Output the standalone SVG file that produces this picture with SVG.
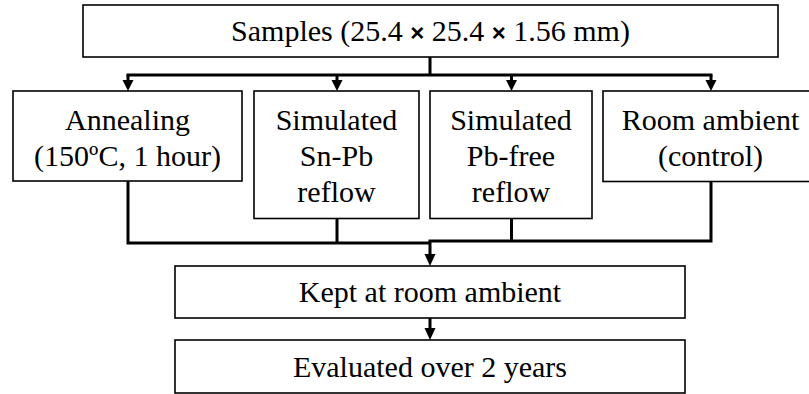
<svg xmlns="http://www.w3.org/2000/svg" width="809" height="394" viewBox="0 0 809 394">
<style>
.box{fill:#fff;stroke:#000;stroke-width:1.6}
text{font-family:'Liberation Serif','Times New Roman',Times,serif;font-size:30px;fill:#000;text-anchor:middle}
.x{font-family:'Liberation Sans',Arial,sans-serif;font-weight:bold;font-size:24px}
.c{fill:none;stroke:#000;stroke-width:3}
.ah{fill:#000}
</style>
<rect width="809" height="394" fill="#fff"/>
<g id="connectors">
<path class="c" d="M430,57 V75 M126.5,75 H712.5"/>
<path class="c" d="M128,75 V82 M337,75 V82 M511.5,75 V82 M711,75 V82"/>
<polygon class="ah" points="122.5,80 133.5,80 128,91"/>
<polygon class="ah" points="331.5,80 342.5,80 337,91"/>
<polygon class="ah" points="506,80 517,80 511.5,91"/>
<polygon class="ah" points="705.5,80 716.5,80 711,91"/>
<path class="c" d="M128,181 V243 H430 M337,218.5 V243 M711,181.5 V241 H428.5 M511.5,218.5 V241"/>
<path class="c" d="M430,241 V256 M430,318 V330"/>
<polygon class="ah" points="424.5,254 435.5,254 430,266"/>
<polygon class="ah" points="424.5,328 435.5,328 430,340"/>
</g>
<g id="samples">
<rect class="box" x="83" y="5" width="695" height="52"/>
<text x="430.5" y="41" xml:space="preserve">Samples (25.4 <tspan class="x">×</tspan> 25.4 <tspan class="x">×</tspan> 1.56 mm)</text>
</g>
<g id="annealing">
<rect class="box" x="13" y="91" width="229" height="90"/>
<text x="127.5" y="130">Annealing</text>
<text x="127.5" y="166">(150ºC, 1 hour)</text>
</g>
<g id="snpb">
<rect class="box" x="254" y="91" width="165" height="127.5"/>
<text x="336.5" y="130">Simulated</text>
<text x="336.5" y="166">Sn-Pb</text>
<text x="336.5" y="202">reflow</text>
</g>
<g id="pbfree">
<rect class="box" x="430" y="91" width="162" height="127.5"/>
<text x="511" y="130">Simulated</text>
<text x="511" y="166">Pb-free</text>
<text x="511" y="202">reflow</text>
</g>
<g id="room">
<rect class="box" x="603" y="91" width="215" height="90.5"/>
<text x="710.5" y="130">Room ambient</text>
<text x="710.5" y="166">(control)</text>
</g>
<g id="kept">
<rect class="box" x="175" y="266" width="510" height="52"/>
<text x="430" y="302">Kept at room ambient</text>
</g>
<g id="evaluated">
<rect class="box" x="175" y="340" width="510" height="53"/>
<text x="430" y="377">Evaluated over 2 years</text>
</g>
</svg>
